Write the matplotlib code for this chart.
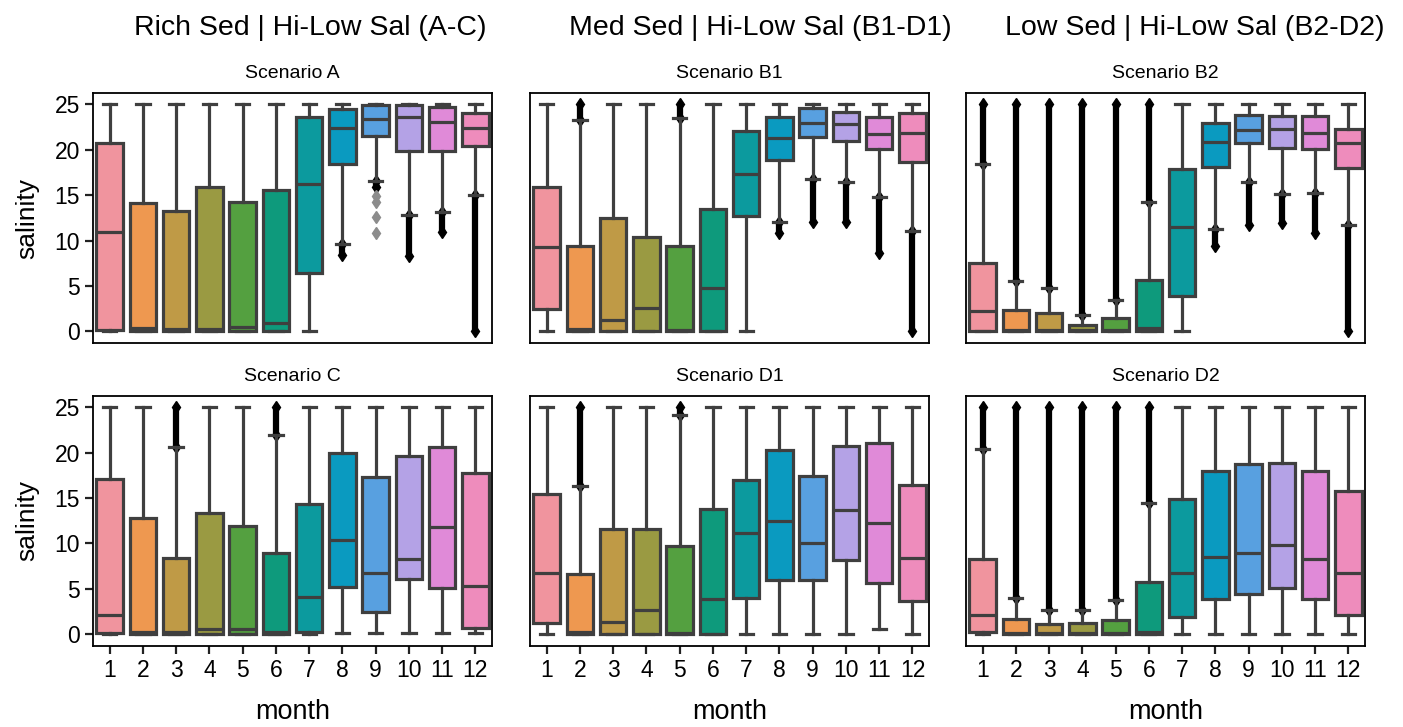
import numpy as np
import matplotlib
matplotlib.use("Agg")
import matplotlib.pyplot as plt

months = [str(m) for m in range(1, 13)]
col_titles = ["Rich Sed | Hi-Low Sal (A-C)", "Med Sed | Hi-Low Sal (B1-D1)", "Low Sed | Hi-Low Sal (B2-D2)"]
scenarios = ["Scenario A", "Scenario B1", "Scenario B2", "Scenario C", "Scenario D1", "Scenario D2"]

# ---- Scenario A ----
A_q1 = [0.1, 0.0, 0.0, 0.0, 0.0, 0.0, 6.4, 18.4, 21.5, 19.9, 19.9, 20.4]
A_med = [10.9, 0.4, 0.3, 0.3, 0.5, 0.9, 16.2, 22.4, 23.4, 23.6, 23.1, 22.4]
A_q3 = [20.8, 14.1, 13.3, 15.9, 14.2, 15.6, 23.6, 24.5, 24.9, 24.9, 24.7, 24.1]
A_lo = [0.0, 0.0, 0.0, 0.0, 0.0, 0.0, 0.0, 9.6, 16.6, 12.8, 13.1, 15.0]
A_hi = [25.0] * 12
A_fl_lo = [None, None, None, None, None, None, None, 8.4, 15.9, 8.3, 10.9, 0.0]
A_fl_hi = [None, None, None, None, None, None, None, 9.6, 16.6, 12.8, 13.1, 15.0]
A_sparse = {8: [14.9, 14.3, 12.6, 10.8]}

# ---- Scenario B1 ----
B1_q1 = [2.5, 0.0, 0.0, 0.0, 0.0, 0.0, 12.7, 18.9, 21.4, 21.0, 20.1, 18.7]
B1_med = [9.25, 0.3, 1.2, 2.6, 0.2, 4.8, 17.3, 21.3, 23.0, 22.8, 21.7, 21.9]
B1_q3 = [15.9, 9.4, 12.5, 10.4, 9.4, 13.5, 22.1, 23.6, 24.6, 24.2, 23.6, 24.0]
B1_lo = [0.0, 0.0, 0.0, 0.0, 0.0, 0.0, 0.0, 12.0, 16.8, 16.4, 14.8, 11.0]
B1_hi = [25.0, 23.3, 25.0, 25.0, 23.5, 25.0, 25.0, 25.0, 25.0, 25.0, 25.0, 25.0]
B1_fl_lo = [None, 23.3, None, None, 23.5, None, None, 10.8, 12.1, 12.1, 8.6, 0.0]
B1_fl_hi = [None, 25.0, None, None, 25.0, None, None, 12.0, 16.8, 16.4, 14.8, 11.0]

# ---- Scenario B2 ----
B2_q1 = [0.0, 0.0, 0.0, 0.0, 0.0, 0.0, 3.9, 18.1, 20.8, 20.2, 20.1, 18.0]
B2_med = [2.2, 0.2, 0.1, 0.2, 0.1, 0.4, 11.5, 20.9, 22.2, 22.3, 21.8, 20.8]
B2_q3 = [7.5, 2.3, 2.0, 0.7, 1.5, 5.7, 17.9, 22.9, 23.8, 23.7, 23.7, 22.3]
B2_lo = [0.0, 0.0, 0.0, 0.0, 0.0, 0.0, 0.0, 11.3, 16.5, 15.1, 15.2, 11.7]
B2_hi = [18.4, 5.5, 4.8, 1.8, 3.5, 14.3, 25.0, 25.0, 25.0, 25.0, 25.0, 25.0]
B2_fl_lo = [18.4, 5.5, 4.8, 1.8, 3.5, 14.3, None, 9.4, 11.7, 11.9, 10.8, 0.0]
B2_fl_hi = [25.0, 25.0, 25.0, 25.0, 25.0, 25.0, None, 11.3, 16.5, 15.1, 15.2, 11.7]

# ---- Scenario C ----
C_q1 = [0.1, 0.0, 0.0, 0.0, 0.0, 0.0, 0.25, 5.2, 2.4, 6.1, 5.1, 0.7]
C_med = [2.1, 0.25, 0.2, 0.6, 0.6, 0.2, 4.1, 10.4, 6.75, 8.3, 11.8, 5.3]
C_q3 = [17.1, 12.8, 8.4, 13.3, 11.9, 8.9, 14.3, 20.0, 17.3, 19.6, 20.6, 17.8]
C_lo = [0.0, 0.0, 0.0, 0.0, 0.0, 0.0, 0.0, 0.1, 0.1, 0.1, 0.1, 0.1]
C_hi = [25.0, 25.0, 20.6, 25.0, 25.0, 22.0, 25.0, 25.0, 25.0, 25.0, 25.0, 25.0]
C_fl_lo = [None, None, 20.6, None, None, 22.0, None, None, None, None, None, None]
C_fl_hi = [None, None, 25.0, None, None, 25.0, None, None, None, None, None, None]

# ---- Scenario D1 ----
D1_q1 = [1.2, 0.0, 0.0, 0.0, 0.0, 0.0, 4.0, 6.0, 6.0, 8.2, 5.6, 3.65]
D1_med = [6.75, 0.2, 1.35, 2.65, 0.15, 3.9, 11.2, 12.5, 10.1, 13.7, 12.2, 8.4]
D1_q3 = [15.5, 6.6, 11.6, 11.6, 9.7, 13.8, 17.0, 20.3, 17.4, 20.7, 21.1, 16.4]
D1_lo = [0.0, 0.0, 0.0, 0.0, 0.0, 0.0, 0.0, 0.0, 0.0, 0.0, 0.55, 0.0]
D1_hi = [25.0, 16.3, 25.0, 25.0, 24.2, 25.0, 25.0, 25.0, 25.0, 25.0, 25.0, 25.0]
D1_fl_lo = [None, 16.3, None, None, 24.2, None, None, None, None, None, None, None]
D1_fl_hi = [None, 25.0, None, None, 25.0, None, None, None, None, None, None, None]

# ---- Scenario D2 ----
D2_q1 = [0.2, 0.0, 0.0, 0.0, 0.0, 0.0, 1.9, 3.9, 4.4, 5.1, 3.9, 2.1]
D2_med = [2.1, 0.1, 0.1, 0.1, 0.1, 0.2, 6.7, 8.5, 9.0, 9.85, 8.3, 6.7]
D2_q3 = [8.3, 1.7, 1.1, 1.2, 1.6, 5.8, 14.9, 18.0, 18.8, 18.9, 18.0, 15.8]
D2_lo = [0.0, 0.0, 0.0, 0.0, 0.0, 0.0, 0.0, 0.0, 0.0, 0.0, 0.0, 0.0]
D2_hi = [20.4, 4.0, 2.7, 2.7, 3.8, 14.4, 25.0, 25.0, 25.0, 25.0, 25.0, 25.0]
D2_fl_lo = [20.4, 4.0, 2.7, 2.7, 3.8, 14.4, None, None, None, None, None, None]
D2_fl_hi = [25.0, 25.0, 25.0, 25.0, 25.0, 25.0, None, None, None, None, None, None]

panels = [
    (A_q1, A_med, A_q3, A_lo, A_hi, A_fl_lo, A_fl_hi, A_sparse),
    (B1_q1, B1_med, B1_q3, B1_lo, B1_hi, B1_fl_lo, B1_fl_hi, {}),
    (B2_q1, B2_med, B2_q3, B2_lo, B2_hi, B2_fl_lo, B2_fl_hi, {}),
    (C_q1, C_med, C_q3, C_lo, C_hi, C_fl_lo, C_fl_hi, {}),
    (D1_q1, D1_med, D1_q3, D1_lo, D1_hi, D1_fl_lo, D1_fl_hi, {}),
    (D2_q1, D2_med, D2_q3, D2_lo, D2_hi, D2_fl_lo, D2_fl_hi, {}),
]

plt.rcParams['font.family'] = ['Liberation Sans', 'DejaVu Sans']

pal = ["#f0949e", "#ee9850", "#bf9a46", "#9a9a42", "#54a040", "#0e9a7c",
       "#0c9a9e", "#0a9ac0", "#58a0e0", "#b4a2e6", "#e08ad8", "#ee8cbc"]
line_col = "#3f3f3f"
lw = 2.3

fig = plt.figure(figsize=(14.03, 7.27), dpi=100)
lefts = [0.0663, 0.3778, 0.6885]
width = 0.2844
bottoms = [0.528, 0.1114]
height = 0.344

for i, (q1, med, q3, lo, hi, fl_lo, fl_hi, sparse) in enumerate(panels):
    r, c = divmod(i, 3)
    ax = fig.add_axes([lefts[c], bottoms[r], width, height])
    pos = np.arange(len(months))
    stats = [dict(med=med[k], q1=q1[k], q3=q3[k], whislo=lo[k], whishi=hi[k], fliers=[])
             for k in range(len(months))]
    bp = ax.bxp(stats, positions=pos, widths=0.8, patch_artist=True, showfliers=False,
                boxprops=dict(edgecolor=line_col, linewidth=lw),
                whiskerprops=dict(color=line_col, linewidth=lw),
                capprops=dict(color=line_col, linewidth=lw),
                medianprops=dict(color=line_col, linewidth=lw))
    for patch, col in zip(bp['boxes'], pal):
        patch.set_facecolor(col)
    for k in range(len(months)):
        if fl_lo[k] is not None:
            ax.vlines(pos[k], fl_lo[k], fl_hi[k], color="black", linewidth=4.5, zorder=1.5)
            ax.plot([pos[k], pos[k]], [fl_lo[k], fl_hi[k]], ls='none', marker='d',
                    ms=6, color='black', zorder=1.5)
    for k, vals in sparse.items():
        ax.plot([pos[k]] * len(vals), vals, ls='none', marker='d', ms=6,
                color='0.55', mec='0.55', zorder=1.5)
    ax.set_xlim(-0.5, 11.5)
    ax.set_ylim(-1.3, 26.25)
    ax.set_title(scenarios[i], fontsize=14, pad=11)
    for sp in ax.spines.values():
        sp.set_linewidth(1.3)
        sp.set_color('black')
    ax.tick_params(width=1.6, length=6, labelsize=16.5, color='#222222')
    if c == 0:
        ax.set_yticks([0, 5, 10, 15, 20, 25])
        ax.set_ylabel("salinity", fontsize=19, labelpad=11)
    else:
        ax.set_yticks([])
    if r == 1:
        ax.set_xticks(pos)
        ax.set_xticklabels(months)
        ax.set_xlabel("month", fontsize=19.5, labelpad=12)
    else:
        ax.set_xticks([])

col_x = [0.221, 0.5417, 0.8517]
for cx, t in zip(col_x, col_titles):
    fig.text(cx, 0.9615, t, ha='center', va='center', fontsize=20.5)

fig.savefig("out.png", dpi=100)
